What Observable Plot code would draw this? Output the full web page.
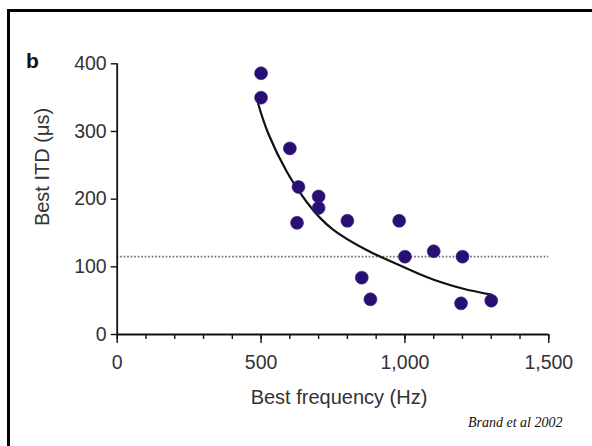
<!DOCTYPE html>
<html>
<head>
<meta charset="utf-8">
<script src="https://cdn.jsdelivr.net/npm/d3@7"></script>
<script src="https://cdn.jsdelivr.net/npm/@observablehq/plot@0.6"></script>
<style>
  html, body { margin: 0; padding: 0; background: #fff; }
  #wrap { position: relative; width: 592px; height: 446px; overflow: hidden; font-family: "Liberation Sans", Arial, Helvetica, sans-serif; }
  #border { position: absolute; left: 6.5px; top: 8.5px; width: 700px; height: 600px; border-left: 3px solid #000; border-top: 3px solid #000; }
  #panel { position: absolute; left: 26px; top: 50px; font-weight: bold; font-size: 21px; line-height: 1; color: #111; }
  #cap { position: absolute; left: 468px; top: 416px; font-family: "Liberation Serif", "Times New Roman", serif; font-style: italic; font-size: 14px; line-height: 1; color: #111; white-space: nowrap; }
  #chart { position: absolute; left: 0; top: 0; }
  .lab { position: absolute; font-size: 20px; line-height: 1; color: #333; white-space: nowrap; transform: translate(-50%, -50%); }
  #ylab { left: 42px; top: 167px; transform: translate(-50%, -50%) rotate(-90deg); }
  #xlab { left: 339px; top: 397px; }
</style>
</head>
<body>
<div id="wrap">
  <div id="border"></div>
  <div id="chart"></div>
  <div id="panel">b</div>
  <div id="xlab" class="lab"></div>
  <div id="ylab" class="lab"></div>
  <div id="cap">Brand et al 2002</div>
</div>
<script>
// Measured neurons: best frequency (Hz) and best ITD (µs)
const bestFreq = [500, 500, 600, 630, 625, 700, 700, 800, 980, 1000, 1100, 1200, 850, 880, 1195, 1300];
const bestITD  = [386, 350, 275, 218, 165, 204, 187, 168, 168, 115, 123, 115, 84, 52, 46, 50];

// Fitted curve
const fitFreq = [490, 525, 590, 660, 750, 870, 915, 1030, 1100, 1200, 1300];
const fitITD  = [341, 297, 240, 195, 155, 124, 115, 93, 81, 68, 59];

// Dotted reference level
const refITD = [115];

// Axis ticks and labels
const xMajorTicks = [0, 500, 1000, 1500];
const xMinorTicks = [0, 100, 200, 300, 400, 500, 600, 700, 800, 900, 1000, 1100, 1200, 1300, 1400, 1500];
const yTicks = [0, 100, 200, 300, 400];
const xLabel = "Best frequency (Hz)";
const yLabel = "Best ITD (μs)";

document.getElementById("xlab").textContent = xLabel;
document.getElementById("ylab").textContent = yLabel;

const points = bestFreq.map((f, i) => ({f, itd: bestITD[i]}));
const fit = fitFreq.map((f, i) => ({f, itd: fitITD[i]}));

const FS = 19.5;
const chart = Plot.plot({
  width: 592,
  height: 446,
  marginLeft: 116.7,
  marginRight: 43.7,
  marginTop: 63.3,
  marginBottom: 112,
  style: { fontFamily: "'Liberation Sans', Arial, Helvetica, sans-serif", fontSize: FS + "px", background: "transparent", color: "#333" },
  x: { domain: [0, 1500] },
  y: { domain: [0, 400] },
  marks: [
    Plot.ruleY(refITD, { x1: 0, x2: 1500, stroke: "#6a6a6a", strokeWidth: 1.6, strokeDasharray: "1.6,1.9" }),
    Plot.line(fit, { x: "f", y: "itd", curve: "natural", stroke: "#111", strokeWidth: 2.2 }),
    Plot.dot(points, { x: "f", y: "itd", r: 6.5, fill: "#2a0f72", stroke: "#3b2a8a", strokeWidth: 0.6 }),
    Plot.axisX({ ticks: xMinorTicks, tickSize: 5, tickFormat: () => "", stroke: "#111", strokeWidth: 1.4, label: null }),
    Plot.axisX({ ticks: xMajorTicks, tickSize: 9, tickPadding: 12, tickFormat: d3.format(","), fontSize: FS, fill: "#333", stroke: "#111", strokeWidth: 1.4, label: null }),
    Plot.axisY({ ticks: yTicks, tickSize: 6, tickPadding: 4.5, fontSize: FS, fill: "#333", stroke: "#111", strokeWidth: 1.4, label: null }),
    Plot.ruleY([0], { x1: 0, x2: 1500, stroke: "#111", strokeWidth: 1.8 }),
    Plot.ruleX([0], { y1: 0, y2: 400, stroke: "#111", strokeWidth: 1.8 })
  ]
});
document.getElementById("chart").appendChild(chart);
</script>
</body>
</html>
